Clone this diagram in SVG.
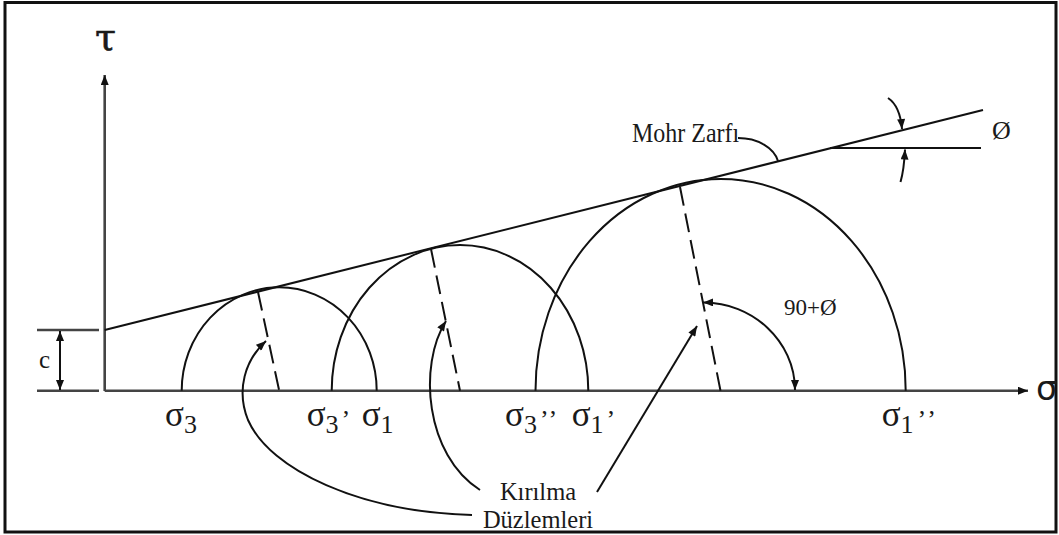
<svg xmlns="http://www.w3.org/2000/svg" width="1059" height="535" viewBox="0 0 1059 535">
<style>
  .ax{stroke:#444;stroke-width:2.6;fill:none}
  .ln{stroke:#111;stroke-width:2;fill:none}
  .ds{stroke:#111;stroke-width:2;fill:none;stroke-dasharray:19 8}
  .t{font-family:"Liberation Serif","Times New Roman",serif;fill:#1a1a1a}
  .g{font-family:"Liberation Serif","Times New Roman",serif;fill:#1a1a1a;font-size:35px}
  .sb{font-size:26px}
  .ap{font-size:26px}
</style>
<defs>
  <marker id="ah" viewBox="0 0 10 8" refX="10" refY="4" markerWidth="12" markerHeight="8" orient="auto-start-reverse" markerUnits="userSpaceOnUse">
    <path d="M0,0 L10,4 L0,8 z" fill="#111"/>
  </marker>
</defs>
<rect x="0" y="0" width="1059" height="535" fill="#fff"/>
<rect id="frame" x="5" y="2.5" width="1051" height="529.5" fill="none" stroke="#111" stroke-width="3"/>

<g id="axes">
  <line class="ax" x1="104.7" y1="391" x2="104.7" y2="75" marker-end="url(#ah)"/>
  <line class="ax" x1="104.7" y1="390.7" x2="1028" y2="390.7" marker-end="url(#ah)"/>
  <text x="105.5" y="50" font-family="DejaVu Serif, serif" font-size="38" text-anchor="middle" fill="#1a1a1a" stroke="#1a1a1a" stroke-width="0.6">τ</text>
  <text x="1036" y="400" font-family="DejaVu Sans, sans-serif" font-size="34" fill="#1a1a1a">σ</text>
</g>

<g id="cohesion">
  <line class="ax" x1="37" y1="330" x2="99" y2="330"/>
  <line class="ax" x1="37" y1="390.7" x2="99" y2="390.7"/>
  <line class="ln" x1="60" y1="331" x2="60" y2="390" marker-start="url(#ah)" marker-end="url(#ah)"/>
  <text class="t" x="39" y="368" font-size="25">c</text>
</g>

<g id="envelope">
  <line class="ln" x1="104.7" y1="330" x2="983" y2="110"/>
  <line class="ln" x1="830" y1="148" x2="981" y2="148"/>
  <text class="t" x="992" y="139" font-size="26">Ø</text>
  <text class="t" transform="translate(632,142) scale(1,1.13)" x="0" y="0" font-size="24">Mohr Zarfı</text>
</g>

<g id="circles">
  <path class="ln" d="M181.7,390.7 A97.5,103.4 0 0 1 376.7,390.7"/>
  <path class="ln" d="M331.7,390.7 A128.3,145.7 0 0 1 588.3,390.7"/>
  <path class="ln" d="M535.5,390.7 A185,211.7 0 0 1 905.7,390.7"/>
</g>

<g id="planes">
  <line class="ds" x1="258" y1="292" x2="279.2" y2="390.7"/>
  <line class="ds" x1="431" y1="249" x2="460" y2="390.7"/>
  <line class="ds" x1="680" y1="187" x2="720.5" y2="390.7"/>
</g>

<g id="labels">
  <text class="g" x="165" y="426">σ<tspan class="sb" dy="7">3</tspan></text>
  <text class="g" x="306.7" y="426">σ<tspan class="sb" dy="7">3</tspan><tspan class="ap" dx="3" dy="-5">’</tspan></text>
  <text class="g" x="361.7" y="426">σ<tspan class="sb" dy="7">1</tspan></text>
  <text class="g" x="505" y="426">σ<tspan class="sb" dy="7">3</tspan><tspan class="ap" dx="3" dy="-5" letter-spacing="2">’’</tspan></text>
  <text class="g" x="571.7" y="426">σ<tspan class="sb" dy="7">1</tspan><tspan class="ap" dx="3" dy="-5">’</tspan></text>
  <text class="g" x="881.7" y="426">σ<tspan class="sb" dy="7">1</tspan><tspan class="ap" dx="4" dy="-5" letter-spacing="3">’’</tspan></text>
  <text class="t" x="784" y="315" font-size="23" fill="#333">90+Ø</text>
</g>

<g id="kirilma">
  <text class="t" x="538" y="499.5" font-size="24.5" text-anchor="middle">Kırılma</text>
  <text class="t" x="538" y="527.5" font-size="24.5" text-anchor="middle">Düzlemleri</text>
</g>

<g id="connectors">
  <path class="ln" d="M738,138 C758,138 774,148 778,161"/>
  <path class="ln" d="M888,98 Q900,106 902,129" marker-end="url(#ah)"/>
  <path class="ln" d="M900.5,182 Q904,170 905,149.5" marker-end="url(#ah)"/>
  <path class="ln" d="M703,302.5 C752,302 795,341 795,390" marker-start="url(#ah)" marker-end="url(#ah)"/>
  <path class="ln" d="M472,515 C360,512 270,470 248,420 C236,390 245,360 266,341" marker-end="url(#ah)"/>
  <path class="ln" d="M480,490 C425,455 418,365 446,321" marker-end="url(#ah)"/>
  <line class="ln" x1="597" y1="492" x2="697" y2="326" marker-end="url(#ah)"/>
</g>
</svg>
